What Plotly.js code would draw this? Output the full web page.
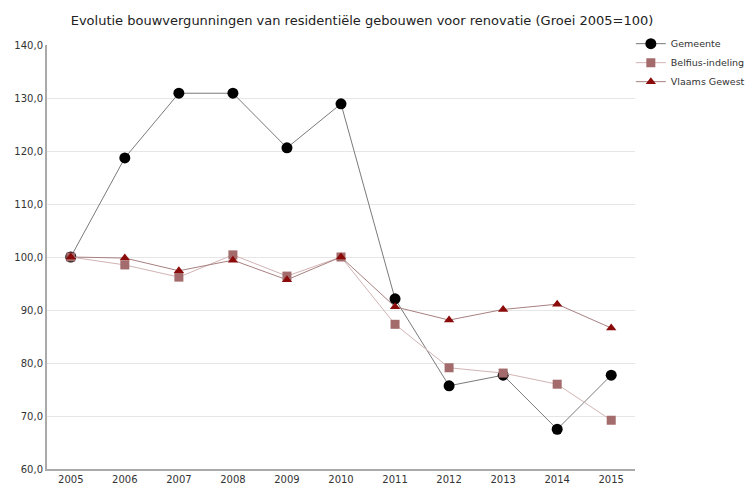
<!DOCTYPE html>
<html><head><meta charset="utf-8">
<script src="https://cdn.plot.ly/plotly-3.0.1.min.js"></script>
<style>body{margin:0;background:#fff}#c{width:751px;height:486px}</style>
</head><body><div id="c"></div>
<script>
const years = ["2005","2006","2007","2008","2009","2010","2011","2012","2013","2014","2015"];
const gemeente = [100.0,118.7,130.9,130.9,120.6,128.9,92.1,75.7,77.7,67.5,77.7];
const belfius = [100.0,98.5,96.2,100.4,96.4,100.0,87.3,79.1,78.1,76.0,69.2];
const vlaams = [100.0,99.8,97.4,99.4,95.7,100.0,90.6,88.1,90.1,91.1,86.6];
const yTicks = [60,70,80,90,100,110,120,130,140];

const font = {family:'DejaVu Sans, Verdana, sans-serif', size:10, color:'#333'};
const traces = [
 {x:years,y:gemeente,name:'Gemeente',mode:'lines+markers',
  line:{color:'#7a7a7a',width:1},marker:{symbol:'circle',size:11,color:'#000'}},
 {x:years,y:belfius,name:'Belfius-indeling',mode:'lines+markers',
  line:{color:'#d2b4b4',width:1},marker:{symbol:'square',size:9,color:'#a36b6b'}},
 {x:years,y:vlaams,name:'Vlaams Gewest',mode:'lines+markers',
  line:{color:'#a88080',width:1},marker:{symbol:'triangle-up',size:9,color:'#8b0a0a'}}
];
const layout = {
 width:751,height:486,
 margin:{l:47,r:116,t:45,b:17,autoexpand:false},
 paper_bgcolor:'#fff',plot_bgcolor:'#fff',
 separators:',.',
 font:font,
 title:{text:'Evolutie bouwvergunningen van residentiële gebouwen voor renovatie (Groei 2005=100)',
   font:{family:'DejaVu Sans, Verdana, sans-serif',size:13,color:'#222'},x:0.482,xanchor:'center',y:0.958,yanchor:'middle'},
 xaxis:{type:'category',range:[-0.44,10.44],showgrid:false,showline:true,linecolor:'#aaa',linewidth:2,
   ticks:'',tickfont:{size:10,color:'#333'},zeroline:false,automargin:false},
 yaxis:{range:[60,140],tickvals:yTicks,tickformat:'.1f',showgrid:true,gridcolor:'#e6e6e6',gridwidth:1,
   showline:true,linecolor:'#aaa',linewidth:2,ticks:'',zeroline:false,tickfont:{size:10,color:'#333'},automargin:false},
 legend:{xref:'container',yref:'container',x:0.84,xanchor:'left',y:0.94,yanchor:'top',font:{size:9.5,color:'#333'},
   tracegroupgap:0,itemwidth:30,bgcolor:'rgba(0,0,0,0)'},
 showlegend:true
};
Plotly.newPlot('c',traces,layout,{displayModeBar:false});
</script></body></html>
